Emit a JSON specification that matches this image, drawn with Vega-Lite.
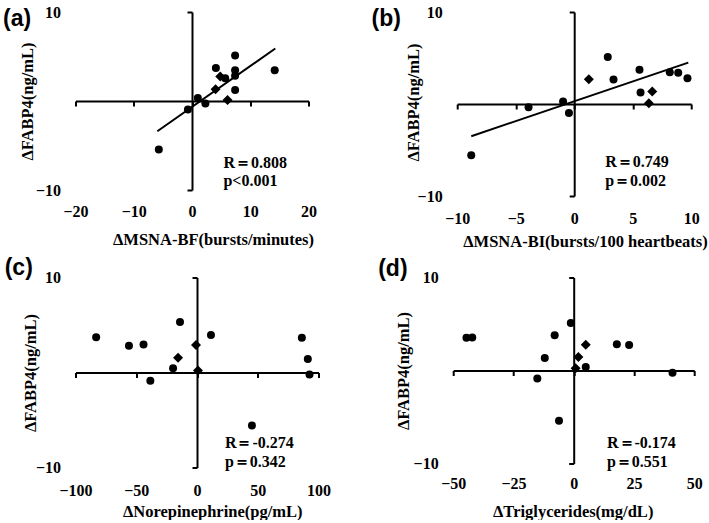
{
  "$schema": "https://vega.github.io/schema/vega-lite/v6.json",
  "padding": {"left": 2.5, "top": 4, "right": 0, "bottom": 0},
  "background": "white",
  "config": {
    "view": {"stroke": null},
    "axis": {"labelFont": "Liberation Serif", "labelFontWeight": "bold", "labelFontSize": 16, "labelColor": "black", "titleFont": "Liberation Serif", "titleFontWeight": "bold", "titleFontSize": 16.5, "titleColor": "black", "grid": false, "domainColor": "black", "tickColor": "black"}
  },
  "spacing": 6.5,
  "vconcat": [
    {
      "bounds": "flush",
      "spacing": 148.7,
      "hconcat": [
        {
          "width": 233, "height": 178,
          "layer": [
            {
              "data": {"values": [
                {"x": -5.7, "y": -5.45, "type": "circle"},
                {"x": -0.7, "y": -0.95, "type": "circle"},
                {"x": 1.0, "y": 0.35, "type": "circle"},
                {"x": 2.3, "y": -0.27, "type": "circle"},
                {"x": 4.1, "y": 3.7, "type": "circle"},
                {"x": 4.05, "y": 1.33, "type": "diamond"},
                {"x": 4.85, "y": 2.75, "type": "diamond"},
                {"x": 5.7, "y": 2.57, "type": "circle"},
                {"x": 6.1, "y": 0.1, "type": "diamond"},
                {"x": 7.4, "y": 5.1, "type": "circle"},
                {"x": 7.4, "y": 3.45, "type": "circle"},
                {"x": 7.4, "y": 2.84, "type": "circle"},
                {"x": 7.4, "y": 1.25, "type": "circle"},
                {"x": 14.2, "y": 3.45, "type": "circle"}
              ]},
              "mark": {"type": "point", "filled": true, "color": "black", "opacity": 1},
              "encoding": {
                "x": {"field": "x", "type": "quantitative", "scale": {"domain": [-20, 20], "nice": false, "zero": false},
                  "axis": {"orient": "bottom", "values": [-20, -10, 0, 10, 20], "domain": false, "ticks": false, "tickSize": 0, "labelPadding": 21, "labelBaseline": "middle", "labelFlush": false, "labelOverlap": false, "title": "ΔMSNA-BF(bursts/minutes)", "titleX": 137.5, "titleY": 49, "titleBaseline": "middle", "titleAlign": "center"}},
                "y": {"field": "y", "type": "quantitative", "scale": {"domain": [-10, 10], "nice": false, "zero": false},
                  "axis": {"orient": "left", "values": [-10, 10], "domain": false, "ticks": false, "tickSize": 0, "labelPadding": 15, "labelFlush": false, "title": "ΔFABP4(ng/mL)", "titleX": -48, "titleY": 89, "titleBaseline": "middle", "titleAlign": "center", "titleAngle": -90}},
                "shape": {"field": "type", "type": "nominal", "scale": {"domain": ["circle", "diamond"], "range": ["circle", "diamond"]}, "legend": null},
                "size": {"field": "type", "type": "ordinal", "scale": {"domain": ["circle", "diamond"], "range": [64, 100]}, "legend": null}
              }
            },
            {
              "data": {"values": [{"x": -5.95, "y": -3.4}, {"x": 14.3, "y": 5.9}]},
              "mark": {"type": "line", "color": "black", "strokeWidth": 2},
              "encoding": {"x": {"field": "x", "type": "quantitative", "axis": null}, "y": {"field": "y", "type": "quantitative", "axis": null}}
            },
            {
              "data": {"values": [{"x": 5.4, "y": -7.5, "label": "R＝0.808"}, {"x": 5.4, "y": -9.5, "label": "p<0.001"}]},
              "mark": {"type": "text", "font": "Liberation Serif", "fontWeight": "bold", "fontSize": 16, "align": "left", "baseline": "alphabetic", "color": "black"},
              "encoding": {
                "x": {"field": "x", "type": "quantitative", "axis": {"orient": "bottom", "offset": -89, "values": [-20, -10, 0, 10, 20], "domain": true, "domainWidth": 2, "ticks": true, "tickSize": 5, "tickWidth": 2, "labels": false, "title": null}},
                "y": {"field": "y", "type": "quantitative", "axis": {"orient": "left", "offset": -116.5, "values": [-10, 10], "domain": true, "domainWidth": 2, "ticks": true, "tickSize": 5, "tickWidth": 2, "labels": false, "title": null}},
                "text": {"field": "label"}
              }
            },
            {
              "data": {"values": [{"x": -20, "y": 10, "label": "(a)"}]},
              "mark": {"type": "text", "font": "Liberation Sans", "fontWeight": "bold", "fontSize": 23, "align": "left", "baseline": "middle", "dx": -72.5, "dy": 6.5, "color": "black"},
              "encoding": {"x": {"field": "x", "type": "quantitative", "axis": null}, "y": {"field": "y", "type": "quantitative", "axis": null}, "text": {"field": "label"}}
            }
          ],
          "resolve": {"axis": {"x": "independent", "y": "independent"}}
        },
        {
          "width": 234, "height": 184,
          "layer": [
            {
              "data": {"values": [
                {"x": -8.8, "y": -5.57, "type": "circle"},
                {"x": -3.9, "y": -0.34, "type": "circle"},
                {"x": -0.95, "y": 0.27, "type": "circle"},
                {"x": -0.45, "y": -0.99, "type": "circle"},
                {"x": 1.25, "y": 2.68, "type": "diamond"},
                {"x": 2.87, "y": 5.1, "type": "circle"},
                {"x": 3.36, "y": 2.65, "type": "circle"},
                {"x": 5.58, "y": 3.73, "type": "circle"},
                {"x": 5.67, "y": 1.24, "type": "circle"},
                {"x": 6.67, "y": 1.35, "type": "diamond"},
                {"x": 6.38, "y": 0.09, "type": "diamond"},
                {"x": 8.17, "y": 3.44, "type": "circle"},
                {"x": 8.89, "y": 3.41, "type": "circle"},
                {"x": 9.68, "y": 2.79, "type": "circle"}
              ]},
              "mark": {"type": "point", "filled": true, "color": "black", "opacity": 1},
              "encoding": {
                "x": {"field": "x", "type": "quantitative", "scale": {"domain": [-10, 10], "nice": false, "zero": false},
                  "axis": {"orient": "bottom", "values": [-10, -5, 0, 5, 10], "domain": false, "ticks": false, "tickSize": 0, "labelPadding": 22, "labelBaseline": "middle", "labelFlush": false, "labelOverlap": false, "title": "ΔMSNA-BI(bursts/100 heartbeats)", "titleX": 127.8, "titleY": 45.5, "titleBaseline": "middle", "titleAlign": "center"}},
                "y": {"field": "y", "type": "quantitative", "scale": {"domain": [-10, 10], "nice": false, "zero": false},
                  "axis": {"orient": "left", "values": [-10, 10], "domain": false, "ticks": false, "tickSize": 0, "labelPadding": 15, "labelFlush": false, "title": "ΔFABP4(ng/mL)", "titleX": -43.7, "titleY": 90, "titleBaseline": "middle", "titleAlign": "center", "titleAngle": -90}},
                "shape": {"field": "type", "type": "nominal", "scale": {"domain": ["circle", "diamond"], "range": ["circle", "diamond"]}, "legend": null},
                "size": {"field": "type", "type": "ordinal", "scale": {"domain": ["circle", "diamond"], "range": [64, 100]}, "legend": null}
              }
            },
            {
              "data": {"values": [{"x": -8.8, "y": -3.5}, {"x": 9.75, "y": 4.5}]},
              "mark": {"type": "line", "color": "black", "strokeWidth": 2},
              "encoding": {"x": {"field": "x", "type": "quantitative", "axis": null}, "y": {"field": "y", "type": "quantitative", "axis": null}}
            },
            {
              "data": {"values": [{"x": 2.65, "y": -6.87, "label": "R＝0.749"}, {"x": 2.65, "y": -8.86, "label": "p＝0.002"}]},
              "mark": {"type": "text", "font": "Liberation Serif", "fontWeight": "bold", "fontSize": 16, "align": "left", "baseline": "alphabetic", "color": "black"},
              "encoding": {
                "x": {"field": "x", "type": "quantitative", "axis": {"orient": "bottom", "offset": -92, "values": [-10, -5, 0, 5, 10], "domain": true, "domainWidth": 2, "ticks": true, "tickSize": 5, "tickWidth": 2, "labels": false, "title": null}},
                "y": {"field": "y", "type": "quantitative", "axis": {"orient": "left", "offset": -117, "values": [-10, 10], "domain": true, "domainWidth": 2, "ticks": true, "tickSize": 5, "tickWidth": 2, "labels": false, "title": null}},
                "text": {"field": "label"}
              }
            },
            {
              "data": {"values": [{"x": -10, "y": 10, "label": "(b)"}]},
              "mark": {"type": "text", "font": "Liberation Sans", "fontWeight": "bold", "fontSize": 23, "align": "left", "baseline": "middle", "dx": -85.7, "dy": 7, "color": "black"},
              "encoding": {"x": {"field": "x", "type": "quantitative", "axis": null}, "y": {"field": "y", "type": "quantitative", "axis": null}, "text": {"field": "label"}}
            }
          ],
          "resolve": {"axis": {"x": "independent", "y": "independent"}}
        }
      ]
    },
    {
      "bounds": "flush",
      "spacing": 134.7,
      "hconcat": [
        {
          "width": 243, "height": 190,
          "layer": [
            {
              "data": {"values": [
                {"x": -83, "y": 3.7, "type": "circle"},
                {"x": -56, "y": 2.82, "type": "circle"},
                {"x": -44, "y": 2.96, "type": "circle"},
                {"x": -38.4, "y": -0.88, "type": "circle"},
                {"x": -19.7, "y": 0.46, "type": "circle"},
                {"x": -15.6, "y": 1.55, "type": "diamond"},
                {"x": -14, "y": 5.32, "type": "circle"},
                {"x": -0.8, "y": 2.89, "type": "diamond"},
                {"x": 0.8, "y": 0.21, "type": "diamond"},
                {"x": 11.5, "y": 3.95, "type": "circle"},
                {"x": 45.2, "y": -5.57, "type": "circle"},
                {"x": 86.3, "y": 3.67, "type": "circle"},
                {"x": 91.2, "y": 1.41, "type": "circle"},
                {"x": 92.6, "y": -0.21, "type": "circle"}
              ]},
              "mark": {"type": "point", "filled": true, "color": "black", "opacity": 1},
              "encoding": {
                "x": {"field": "x", "type": "quantitative", "scale": {"domain": [-100, 100], "nice": false, "zero": false},
                  "axis": {"orient": "bottom", "values": [-100, -50, 0, 50, 100], "domain": false, "ticks": false, "tickSize": 0, "labelPadding": 23, "labelBaseline": "middle", "labelFlush": false, "labelOverlap": false, "title": "ΔNorepinephrine(pg/mL)", "titleX": 136.7, "titleY": 44, "titleBaseline": "middle", "titleAlign": "center"}},
                "y": {"field": "y", "type": "quantitative", "scale": {"domain": [-10, 10], "nice": false, "zero": false},
                  "axis": {"orient": "left", "values": [-10, 10], "domain": false, "ticks": false, "tickSize": 0, "labelPadding": 15, "labelFlush": false, "title": "ΔFABP4(ng/mL)", "titleX": -45.3, "titleY": 95, "titleBaseline": "middle", "titleAlign": "center", "titleAngle": -90}},
                "shape": {"field": "type", "type": "nominal", "scale": {"domain": ["circle", "diamond"], "range": ["circle", "diamond"]}, "legend": null},
                "size": {"field": "type", "type": "ordinal", "scale": {"domain": ["circle", "diamond"], "range": [64, 100]}, "legend": null}
              }
            },
            {
              "data": {"values": [{"x": 23, "y": -7.93, "label": "R＝-0.274"}, {"x": 23, "y": -9.93, "label": "p＝0.342"}]},
              "mark": {"type": "text", "font": "Liberation Serif", "fontWeight": "bold", "fontSize": 16, "align": "left", "baseline": "alphabetic", "color": "black"},
              "encoding": {
                "x": {"field": "x", "type": "quantitative", "axis": {"orient": "bottom", "offset": -95, "values": [-100, -50, 0, 50, 100], "domain": true, "domainWidth": 2, "ticks": true, "tickSize": 5, "tickWidth": 2, "labels": false, "title": null}},
                "y": {"field": "y", "type": "quantitative", "axis": {"orient": "left", "offset": -121.5, "values": [-10, 10], "domain": true, "domainWidth": 2, "ticks": true, "tickSize": 5, "tickWidth": 2, "labels": false, "title": null}},
                "text": {"field": "label"}
              }
            },
            {
              "data": {"values": [{"x": -100, "y": 10, "label": "(c)"}]},
              "mark": {"type": "text", "font": "Liberation Sans", "fontWeight": "bold", "fontSize": 23, "align": "left", "baseline": "middle", "dx": -70.8, "dy": -10, "color": "black"},
              "encoding": {"x": {"field": "x", "type": "quantitative", "axis": null}, "y": {"field": "y", "type": "quantitative", "axis": null}, "text": {"field": "label"}}
            }
          ],
          "resolve": {"axis": {"x": "independent", "y": "independent"}}
        },
        {
          "width": 241, "height": 186,
          "layer": [
            {
              "data": {"values": [
                {"x": -44.5, "y": 3.51, "type": "circle"},
                {"x": -42.1, "y": 3.55, "type": "circle"},
                {"x": -15.1, "y": -0.87, "type": "circle"},
                {"x": -12, "y": 1.34, "type": "circle"},
                {"x": -7.9, "y": 3.8, "type": "circle"},
                {"x": -6.1, "y": -5.4, "type": "circle"},
                {"x": -1.2, "y": 5.11, "type": "circle"},
                {"x": 0.8, "y": 0.25, "type": "diamond"},
                {"x": 1.95, "y": 1.44, "type": "diamond"},
                {"x": 5.0, "y": 2.76, "type": "diamond"},
                {"x": 5.0, "y": 0.37, "type": "circle"},
                {"x": 17.9, "y": 2.83, "type": "circle"},
                {"x": 23, "y": 2.73, "type": "circle"},
                {"x": 41, "y": -0.24, "type": "circle"}
              ]},
              "mark": {"type": "point", "filled": true, "color": "black", "opacity": 1},
              "encoding": {
                "x": {"field": "x", "type": "quantitative", "scale": {"domain": [-50, 50], "nice": false, "zero": false},
                  "axis": {"orient": "bottom", "values": [-50, -25, 0, 25, 50], "domain": false, "ticks": false, "tickSize": 0, "labelPadding": 20, "labelBaseline": "middle", "labelFlush": false, "labelOverlap": false, "title": "ΔTriglycerides(mg/dL)", "titleX": 119.5, "titleY": 48, "titleBaseline": "middle", "titleAlign": "center"}},
                "y": {"field": "y", "type": "quantitative", "scale": {"domain": [-10, 10], "nice": false, "zero": false},
                  "axis": {"orient": "left", "values": [-10, 10], "domain": false, "ticks": false, "tickSize": 0, "labelPadding": 15, "labelFlush": false, "title": "ΔFABP4(ng/mL)", "titleX": -50, "titleY": 93, "titleBaseline": "middle", "titleAlign": "center", "titleAngle": -90}},
                "shape": {"field": "type", "type": "nominal", "scale": {"domain": ["circle", "diamond"], "range": ["circle", "diamond"]}, "legend": null},
                "size": {"field": "type", "type": "ordinal", "scale": {"domain": ["circle", "diamond"], "range": [64, 100]}, "legend": null}
              }
            },
            {
              "data": {"values": [{"x": 13.8, "y": -8.28, "label": "R＝-0.174"}, {"x": 13.8, "y": -10.35, "label": "p＝0.551"}]},
              "mark": {"type": "text", "font": "Liberation Serif", "fontWeight": "bold", "fontSize": 16, "align": "left", "baseline": "alphabetic", "color": "black"},
              "encoding": {
                "x": {"field": "x", "type": "quantitative", "axis": {"orient": "bottom", "offset": -93, "values": [-50, -25, 0, 25, 50], "domain": true, "domainWidth": 2, "ticks": true, "tickSize": 5, "tickWidth": 2, "labels": false, "title": null}},
                "y": {"field": "y", "type": "quantitative", "axis": {"orient": "left", "offset": -120.5, "values": [-10, 10], "domain": true, "domainWidth": 2, "ticks": true, "tickSize": 5, "tickWidth": 2, "labels": false, "title": null}},
                "text": {"field": "label"}
              }
            },
            {
              "data": {"values": [{"x": -50, "y": 10, "label": "(d)"}]},
              "mark": {"type": "text", "font": "Liberation Sans", "fontWeight": "bold", "fontSize": 23, "align": "left", "baseline": "middle", "dx": -75, "dy": -9, "color": "black"},
              "encoding": {"x": {"field": "x", "type": "quantitative", "axis": null}, "y": {"field": "y", "type": "quantitative", "axis": null}, "text": {"field": "label"}}
            }
          ],
          "resolve": {"axis": {"x": "independent", "y": "independent"}}
        }
      ]
    }
  ]
}
